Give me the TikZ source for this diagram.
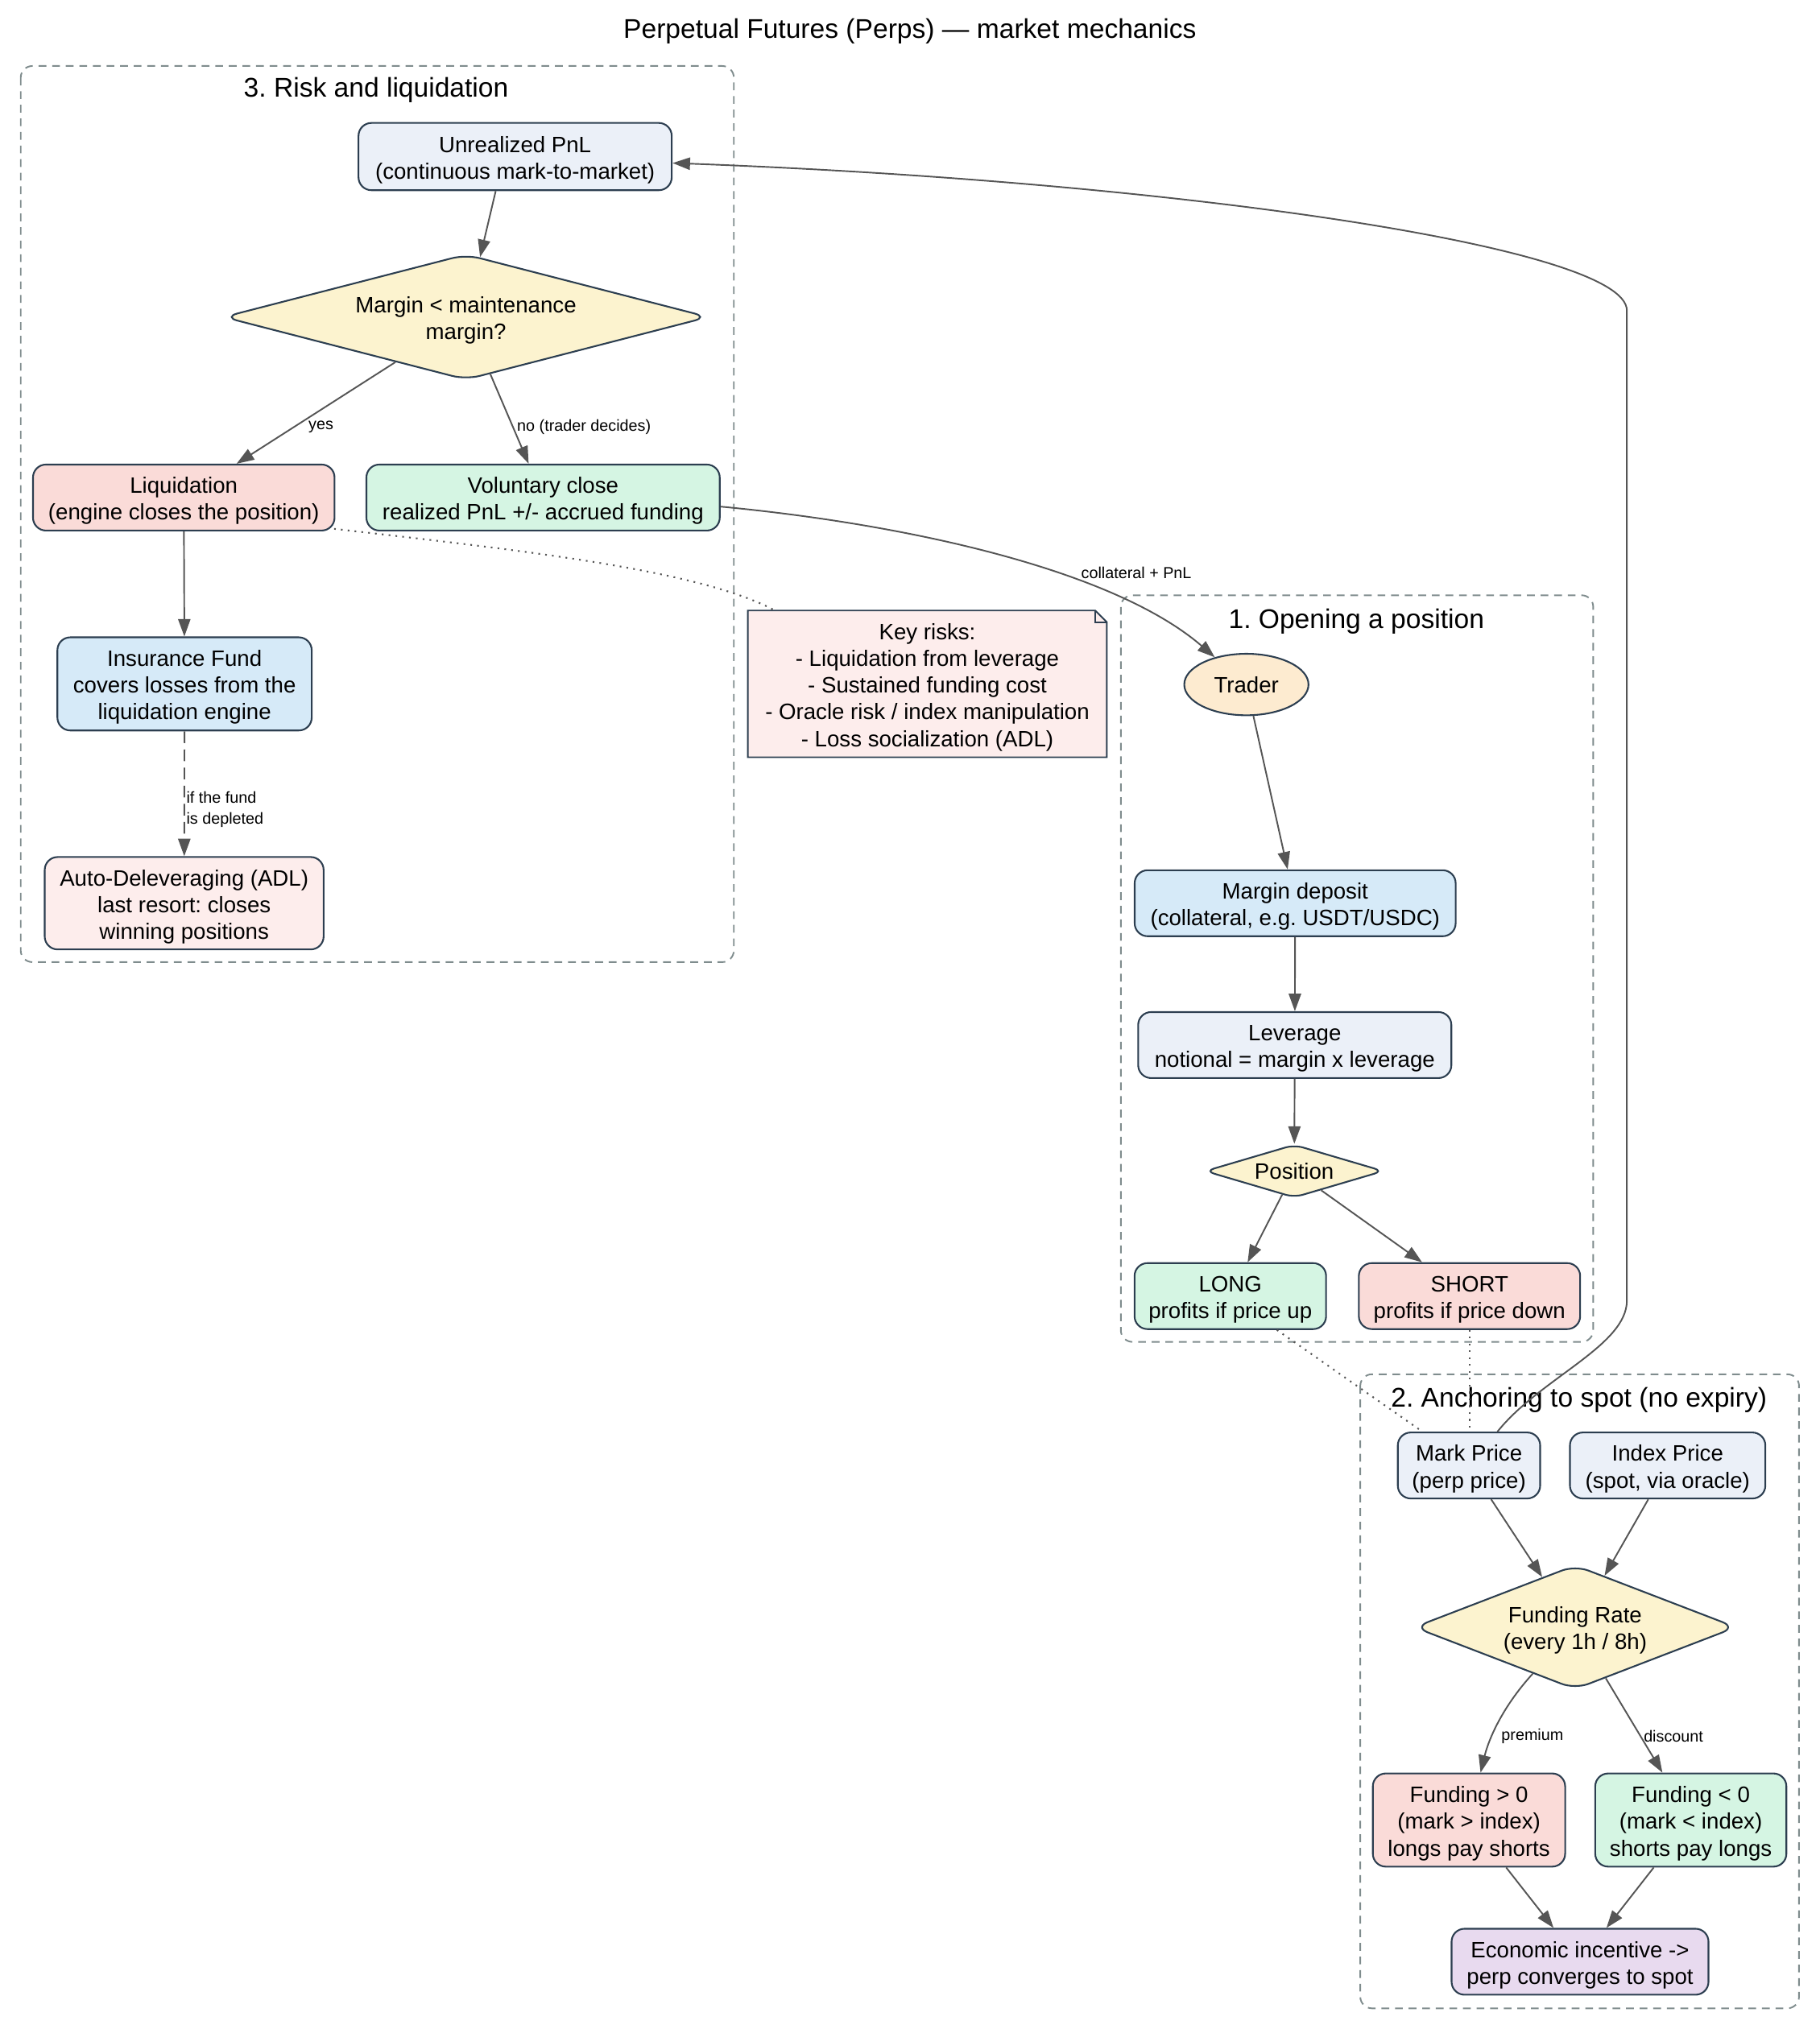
\documentclass[tikz,border=0pt]{standalone}
\usepackage{fontspec}
\setmainfont{Liberation Sans}
\usetikzlibrary{arrows.meta,shapes.geometric}
\definecolor{cblue}{HTML}{EBF0F8}
\definecolor{cyellow}{HTML}{FCF3CF}
\definecolor{cred}{HTML}{FADBD8}
\definecolor{cgreen}{HTML}{D5F5E3}
\definecolor{cinsur}{HTML}{D6EAF8}
\definecolor{cpink}{HTML}{FDEDEC}
\definecolor{corange}{HTML}{FDEBD0}
\definecolor{cpurple}{HTML}{E8DAEF}
\definecolor{nborder}{HTML}{2C3E50}
\definecolor{edgecol}{HTML}{555555}
\definecolor{clustcol}{HTML}{7F8C8D}
\newcommand\nfont{\fontsize{17.2}{20.6}\selectfont}
\newcommand\lfont{\fontsize{12.3}{15.9}\selectfont}
\newcommand\tfont{\fontsize{20.9}{25}\selectfont}
\newcommand\tup{\rule{0pt}{17.8pt}}
\frenchspacing
\begin{document}
\frenchspacing
\begin{tikzpicture}[x=1pt,y=1pt,
  box/.style={draw=nborder, line width=1.3pt, rounded corners=10pt, align=center, font=\nfont, inner sep=0pt},
  dia/.style={diamond, draw=nborder, line width=1.3pt, rounded corners=11pt, align=center, font=\nfont, inner sep=0pt},
  ell/.style={ellipse, draw=nborder, line width=1.3pt, align=center, font=\nfont, inner sep=0pt},
  notebox/.style={draw=none, align=center, font=\nfont, inner sep=0pt},
  cluster/.style={draw=clustcol, line width=1.2pt, dash pattern=on 6pt off 4.5pt, rounded corners=9pt},
  ctitle/.style={font=\tfont, inner sep=0pt},
  arr/.style={-{Triangle[length=13.5pt,width=9.5pt]}, draw=edgecol, line width=1.2pt},
  dotline/.style={draw=edgecol, line width=1.3pt, dash pattern=on 1.3pt off 4pt},
  elabel/.style={font=\lfont, inner sep=0pt, align=center, yshift=-1.5pt}
]
\useasboundingbox (0,0) rectangle (1406,-1568);

\node[ctitle] (title) at (703,-24) {Perpetual Futures (Perps) — market mechanics};

% clusters
\draw[cluster] (16,-51) rectangle (567,-743.5);
\node[ctitle] (t3) at (290.6,-69.5) {3. Risk and liquidation};
\draw[cluster] (866,-460) rectangle (1231,-1037);
\node[ctitle] (t1) at (1048,-480) {1. Opening a position};
\draw[cluster] (1051,-1062) rectangle (1390,-1552);
\node[ctitle] (t2) at (1220,-1082) {2. Anchoring to spot (no expiry)};

% cluster 3 nodes
\node[box, fill=cblue, minimum width=242pt, minimum height=52pt] (upnl) at (398,-121) {\tup Unrealized PnL\\(continuous mark-to-market)};
\node[dia, fill=cyellow, aspect=3.866, minimum width=375pt, minimum height=97pt] (margin) at (360,-245) {\tup Margin < maintenance\\margin?};
\node[box, fill=cred, minimum width=233pt, minimum height=51pt] (liq) at (142,-384.5) {\tup Liquidation\\(engine closes the position)};
\node[box, fill=cgreen, minimum width=273pt, minimum height=51pt] (vol) at (419.6,-384.5) {\tup Voluntary close\\realized PnL +/- accrued funding};
\node[box, fill=cinsur, minimum width=196.5pt, minimum height=72pt] (ins) at (142.6,-528.5) {\tup Insurance Fund\\covers losses from the\\liquidation engine};
\node[box, fill=cpink, minimum width=215.5pt, minimum height=71.4pt] (adl) at (142.3,-698) {\tup Auto-Deleveraging (ADL)\\last resort: closes\\winning positions};

% note
\node[notebox, fill=cpink, minimum width=277pt, minimum height=113pt] (risks) at (716.5,-528.5) {\tup Key risks:\\- Liquidation from leverage\\- Sustained funding cost\\- Oracle risk / index manipulation\\- Loss socialization (ADL)};
\fill[white] ([xshift=-9pt]risks.north east) -- ([xshift=1pt,yshift=1pt]risks.north east) -- ([yshift=-9pt]risks.north east) -- cycle;
\draw[draw=nborder, line width=1.2pt, line join=miter] (risks.north west) -- ([xshift=-9pt]risks.north east) -- ([yshift=-9pt]risks.north east) -- (risks.south east) -- (risks.south west) -- cycle;
\draw[draw=nborder, line width=1pt] ([xshift=-9pt]risks.north east) -- ([xshift=-9pt,yshift=-9pt]risks.north east) -- ([yshift=-9pt]risks.north east);

% cluster 1 nodes
\node[ell, fill=corange, minimum width=96pt, minimum height=47.5pt] (trader) at (963,-529) {Trader};
\node[box, fill=cinsur, minimum width=248pt, minimum height=51pt] (mdep) at (1000.7,-698) {\tup Margin deposit\\(collateral, e.g. USDT/USDC)};
\node[box, fill=cblue, minimum width=242pt, minimum height=51pt] (lev) at (1000.4,-807.6) {\tup Leverage\\notional = margin x leverage};
\node[dia, fill=cyellow, aspect=3.366, minimum width=138pt, minimum height=41pt, rounded corners=7pt] (pos) at (1000,-905) {Position};
\node[box, fill=cgreen, minimum width=148pt, minimum height=51pt] (long) at (950.6,-1001.6) {\tup LONG\\profits if price up};
\node[box, fill=cred, minimum width=171pt, minimum height=51pt] (short) at (1135.4,-1001.6) {\tup SHORT\\profits if price down};

% cluster 2 nodes
\node[box, fill=cblue, minimum width=110pt, minimum height=51pt] (mark) at (1135,-1132.5) {\tup Mark Price\\(perp price)};
\node[box, fill=cblue, minimum width=151pt, minimum height=51pt] (index) at (1288.5,-1132.5) {\tup Index Price\\(spot, via oracle)};
\node[dia, fill=cyellow, aspect=2.594, minimum width=249pt, minimum height=96pt] (fund) at (1217,-1257.5) {\tup Funding Rate\\(every 1h / 8h)};
\node[box, fill=cred, minimum width=148.6pt, minimum height=72pt] (fpos) at (1135,-1406.5) {\tup Funding > 0\\(mark > index)\\longs pay shorts};
\node[box, fill=cgreen, minimum width=147.7pt, minimum height=72pt] (fneg) at (1306.4,-1406.5) {\tup Funding < 0\\(mark < index)\\shorts pay longs};
\node[box, fill=cpurple, minimum width=198.5pt, minimum height=51pt] (econ) at (1220.8,-1516) {\tup Economic incentive ->\\perp converges to spot};

% edges cluster 3
\draw[arr] ([xshift=-15pt]upnl.south) -- (margin);
\draw[arr] (margin) -- (liq) node[elabel] at (248,-328.5) {yes};
\draw[arr] (margin) -- (vol) node[elabel, anchor=west] at (399,-328.5) {no (trader decides)};
\draw[arr] (liq) -- (ins);
\draw[arr, dash pattern=on 9pt off 5pt] (ins) -- (adl) node[elabel, anchor=west, align=left] at (143.5,-624) {if the fund\\is depleted};
\draw[dotline] ([xshift=-1pt,yshift=2pt]liq.south east) .. controls (400,-425) and (540,-440) .. ([xshift=21pt]risks.north west);

% cross-cluster
\draw[arr] ([yshift=-7pt]vol.east) .. controls (700,-405) and (860,-440) .. (trader) node[elabel] at (878,-441) {collateral + PnL};
\draw[arr] ([xshift=22pt]mark.north) .. controls (1190,-1065) and (1257,-1040) .. (1257,-1005) -- (1257,-240) .. controls (1257,-190) and (900,-140) .. ([yshift=-5pt]upnl.east);
\draw[dotline] ([xshift=36pt]long.south) -- ([xshift=-36pt]mark.north);
\draw[dotline] (short.south) -- (short.south |- mark.north);

% edges cluster 1
\draw[arr] (trader) -- (mdep);
\draw[arr] (mdep) -- (lev);
\draw[arr] (lev) -- (pos);
\draw[arr] (pos) -- (long);
\draw[arr] (pos) -- (short);

% edges cluster 2
\draw[arr] (mark) -- (fund);
\draw[arr] (index) -- (fund);
\draw[arr] (fund) .. controls (1160,-1320) and (1150,-1345) .. (fpos) node[elabel] at (1184,-1340) {premium};
\draw[arr] (fund) -- (fneg) node[elabel] at (1293,-1340) {discount};
\draw[arr] (fpos) -- (econ);
\draw[arr] (fneg) -- (econ);
\end{tikzpicture}
\end{document}
